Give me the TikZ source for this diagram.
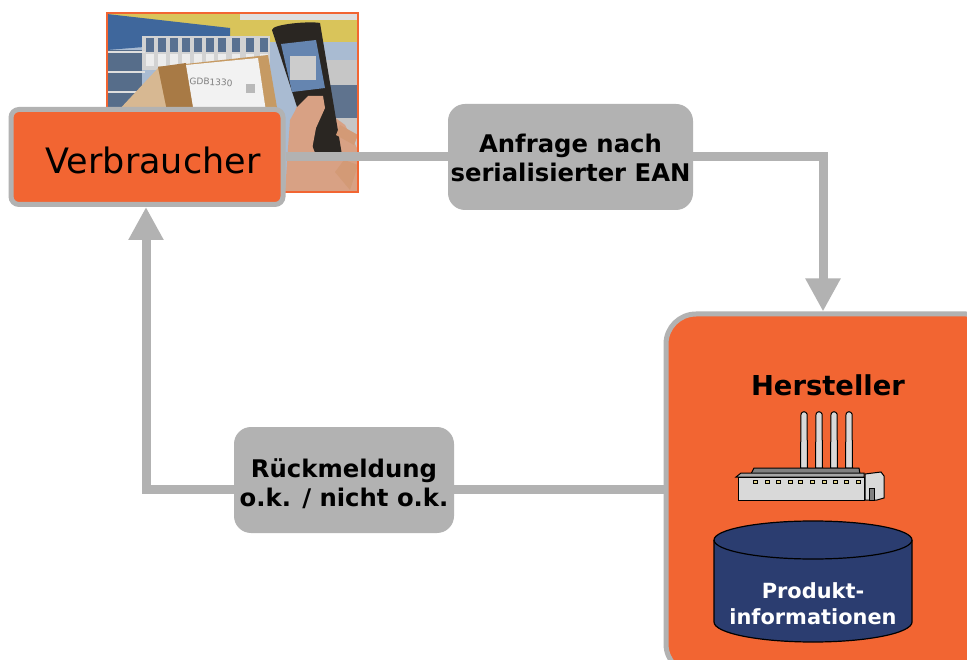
\documentclass[tikz,border=0pt]{standalone}
\usepackage{fontspec}
\setmainfont{DejaVu Sans}
\usetikzlibrary{arrows.meta}
\definecolor{orangefill}{HTML}{F26532}
\definecolor{linegray}{HTML}{B2B2B2}
\definecolor{navy}{HTML}{2B3D70}
\definecolor{shelfblue}{HTML}{3F679C}
\definecolor{wallyellow}{HTML}{D9C45A}
\definecolor{boxtan}{HTML}{C69A63}
\definecolor{boxdark}{HTML}{A87A45}
\definecolor{skin}{HTML}{D8A184}
\definecolor{phone}{HTML}{2A2622}
\tikzset{
  flow/.style={draw=linegray,line width=9pt},
  flowhead/.style={flow,-{Triangle[length=33pt,width=33pt]}},
  labelbox/.style={fill=linegray,rounded corners=17pt,font=\bfseries\fontsize{24.3}{29}\selectfont,align=center,inner sep=0pt},
  chimney/.style={draw=black,line width=1pt,fill=gray!30},
  factory/.style={draw=black,line width=1pt,fill=gray!30},
  win/.style={draw=black,line width=.6pt,fill=wallyellow!70}
}
\begin{document}
\begin{tikzpicture}[x=1pt,y=-1pt]
\useasboundingbox (0,0) rectangle (967,660);
\clip (0,0) rectangle (967,660);
\fill[white] (0,0) rectangle (967,660);
% photo
\begin{scope}
\clip (107,13) rectangle (358,192);
\fill[shelfblue!45!white] (107,13) rectangle (358,192);
\fill[wallyellow] (107,14) rectangle (358,42);
\fill[gray!25] (240,14) rectangle (358,20);
\fill[shelfblue] (107,14) -- (230,28) -- (230,40) -- (107,50) -- cycle;
\fill[shelfblue!70!black!80!white] (107,50) rectangle (142,110);
\fill[gray!35] (142,36) rectangle (270,70);
\foreach \x in {146,158,170,182,194,206,218,232,246,260}{
  \fill[shelfblue!60!gray] (\x,38) rectangle ++(8,14);
  \fill[gray!15] (\x,54) rectangle ++(8,12);}
\foreach \y in {52,72,92}{\draw[gray!25,line width=2pt] (107,\y) -- (145,\y);}
\fill[gray!45] (325,60) rectangle (358,192);
\fill[shelfblue!50!gray] (330,85) rectangle (358,118);
\fill[boxtan!70!white] (117,112) -- (160,66) -- (175,120) -- cycle;
\fill[boxtan] (158,67) -- (268,55) -- (280,125) -- (170,125) -- cycle;
\fill[boxdark] (158,67) -- (186,63) -- (196,125) -- (170,125) -- cycle;
\fill[gray!10] (186,65) -- (258,58) -- (268,125) -- (196,125) -- cycle;
\node[font=\fontsize{9}{10}\selectfont,text=gray,rotate=-3] (gdb) at (211,82) {GDB1330};
\fill[gray!55] (246,84) rectangle (255,93);
\fill[skin] (285,192) -- (290,120) -- (300,102) -- (320,95) -- (325,110) -- (345,125) -- (358,150) -- (358,192) -- cycle;
\fill[phone] (272,30) .. controls (272,24) and (310,21) .. (320,23) -- (342,155) -- (318,160) -- (298,110) -- cycle;
\fill[shelfblue!80!white] (281,44) -- (316,40) -- (325,88) -- (292,92) -- cycle;
\fill[gray!40] (290,56) rectangle (316,80);
\fill[skin] (295,130) -- (296,108) -- (308,96) -- (323,96) -- (325,108) -- (316,128) -- (310,160) -- (295,160) -- cycle;
\fill[skin!80!brown] (340,125) -- (358,135) -- (354,145) -- (336,135) -- cycle;
\fill[skin!80!brown] (344,160) -- (358,165) -- (350,190) -- (335,172) -- cycle;
\end{scope}
\draw[orangefill,line width=1.2pt] (107,13) rectangle (358,192);
% nodes
\node[draw=linegray,line width=5pt,fill=orangefill,rounded corners=8pt,minimum width=272pt,minimum height=95pt,inner sep=0pt,font=\fontsize{35}{40}\selectfont] (verb) at (147,157) {\hspace*{12pt}\rule{0pt}{32.6pt}Verbraucher};
\node[labelbox,minimum width=245pt,minimum height=106pt] (anf) at (570.5,157) {\rule{0pt}{20.5pt}Anfrage nach\\serialisierter EAN};
\node[labelbox,minimum width=220pt,minimum height=106pt] (rueck) at (344,480) {\rule{0pt}{27pt}Rückmeldung\\o.k. / nicht o.k.};
\node[draw=linegray,line width=5pt,fill=orangefill,rounded corners=30pt,minimum width=330pt,minimum height=360pt,inner sep=0pt] (herst) at (831,494) {};
\coordinate (c1) at (823,157);
\coordinate (c2) at (146,489);
% connectors
\draw[flow] (verb.east |- anf.west) -- (anf.west);
\draw[flowhead] (anf.east) -- (c1) -- (c1 |- herst.north);
\draw[flow] (herst.west |- c2) -- (rueck.east |- c2);
\draw[flowhead] (rueck.west |- c2) -- (c2) -- (c2 |- verb.south);
% Hersteller contents
\node[font=\bfseries\fontsize{27.4}{32}\selectfont] (htitle) at (828,385) {Hersteller};
\foreach \x in {804,819,834,849}{
  \draw[chimney] (\x-3.5,468) -- (\x-3,414) .. controls (\x-2,411) and (\x+2,411) .. (\x+3,414) -- (\x+3.5,468) -- cycle;}
\draw[factory,fill=gray] (751,474) -- (754,468) -- (859,468) -- (860,474) -- cycle;
\draw[factory,fill=gray!70] (736,477) -- (741,473) -- (864,473) -- (864,477) -- cycle;
\draw[factory] (738,477) rectangle (864,500);
\draw[factory] (865,474) -- (881,472) -- (884,476) -- (884,498) -- (877,500) -- (865,500) -- cycle;
\draw[factory,fill=gray] (869,488) rectangle (874,500);
\foreach \x in {755,767,778,790,800,812,824,835,846,858}{\draw[win] (\x-2,480) rectangle (\x+2,483.5);}
% cylinder
\draw[draw=black,line width=1.2pt,fill=navy] (714,540) -- (714,622) arc[start angle=180,end angle=360,x radius=99pt,y radius=20pt] -- (912,540) arc[start angle=0,end angle=180,x radius=99pt,y radius=19pt] -- cycle;
\draw[draw=black,line width=1.2pt] (714,540) arc[start angle=180,end angle=360,x radius=99pt,y radius=19pt];
\node[text=white,font=\bfseries\fontsize{20.9}{26}\selectfont,align=center] (prod) at (813,604) {Produkt-\\informationen};
\end{tikzpicture}
\end{document}
